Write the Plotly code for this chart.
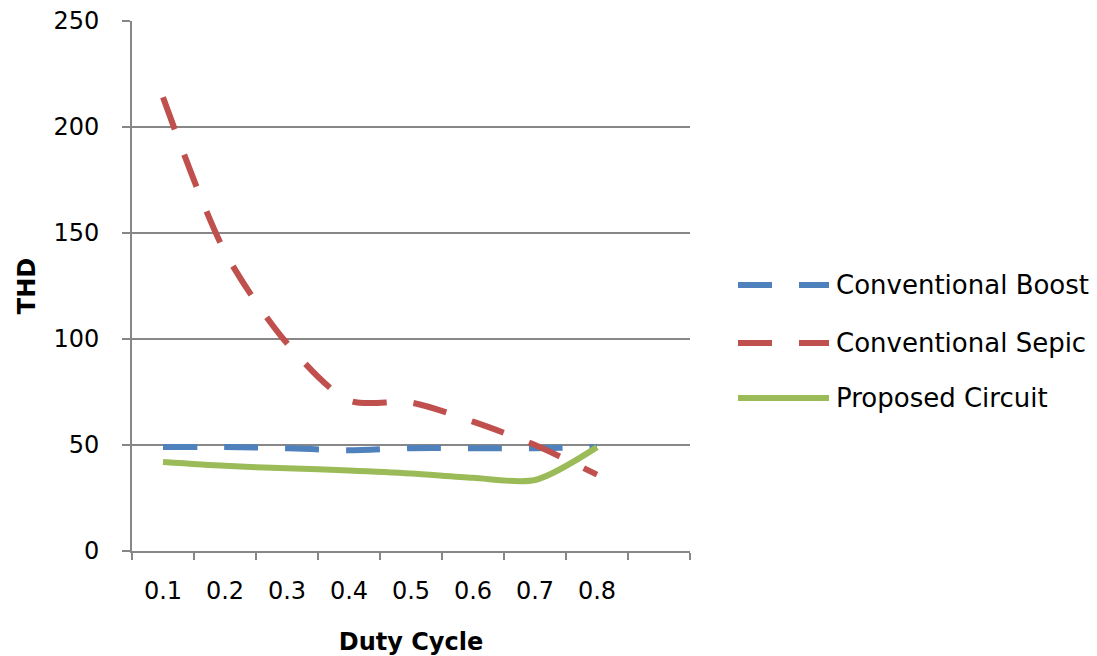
import plotly.graph_objects as go

# Duty cycle categories (a ninth, empty slot follows the last one)
categories = ["0.1", "0.2", "0.3", "0.4", "0.5", "0.6", "0.7", "0.8"]
n_slots = 9

# THD values per duty cycle
boost = [49, 49, 48.5, 47.5, 48.5, 48.5, 48.5, 49]
sepic = [214, 141, 98, 71, 70, 61, 50, 36]
proposed = [42, 40.2, 39, 38, 36.6, 34.5, 33.5, 49]

series_names = ["Conventional Boost", "Conventional Sepic", "Proposed Circuit"]
series_colors = ["#4F81BD", "#C0504D", "#9BBB59"]
series_dash = ["34px,27px", "34px,27px", "solid"]

GRAY = "#878787"
FONT = "DejaVu Sans"

xpos = list(range(1, len(categories) + 1))

fig = go.Figure()
for name, vals, color, dash in zip(series_names, [boost, sepic, proposed],
                                   series_colors, series_dash):
    fig.add_trace(go.Scatter(
        x=xpos, y=vals, name=name, mode="lines",
        line=dict(color=color, width=6, dash=dash, shape="spline", smoothing=0.8),
        showlegend=False,
    ))

W, H = 1097, 656
L, R, T, B = 132, 407, 21, 105
plot_w = W - L - R
plot_h = H - T - B


def px_to_paper_x(px):
    return (px - L) / plot_w


def px_to_paper_y(py):
    return (H - B - py) / plot_h


# Legend drawn at the right of the plot
legend_y_px = [285, 343, 398]
for name, color, dash, ypx in zip(series_names, series_colors, series_dash, legend_y_px):
    yp = px_to_paper_y(ypx)
    fig.add_shape(type="line", xref="paper", yref="paper",
                  x0=px_to_paper_x(738), x1=px_to_paper_x(829), y0=yp, y1=yp,
                  line=dict(color=color, width=6, dash=dash))
    fig.add_annotation(text=name, xref="paper", yref="paper",
                       x=px_to_paper_x(834), y=yp, xanchor="left", yanchor="middle",
                       showarrow=False, font=dict(family=FONT, size=26, color="#000000"))

fig.update_layout(
    width=W, height=H,
    margin=dict(l=L, r=R, t=T, b=B, autoexpand=False),
    paper_bgcolor="white", plot_bgcolor="white",
    font=dict(family=FONT, size=24, color="#000000"),
    showlegend=False,
)

fig.update_xaxes(
    automargin=False,
    range=[0.5, n_slots + 0.5],
    tickmode="array", tickvals=xpos, ticktext=categories, ticks="",
    ticklabelstandoff=17,
    showgrid=False, zeroline=False,
    showline=True, linecolor=GRAY, linewidth=2,
    minor=dict(tickmode="linear", tick0=0.5, dtick=1, ticks="outside",
               ticklen=7, tickwidth=2, tickcolor=GRAY, showgrid=False),
    title=dict(text="<b>Duty Cycle</b>", standoff=30,
               font=dict(family=FONT, size=24, color="#000000")),
    tickfont=dict(family=FONT, size=24, color="#000000"),
)

fig.update_yaxes(
    automargin=False,
    range=[0, 250], tickmode="linear", tick0=0, dtick=50,
    ticks="outside", ticklen=8, tickwidth=2, tickcolor=GRAY,
    ticklabelstandoff=18,
    showgrid=True, gridcolor=GRAY, gridwidth=2, zeroline=False,
    showline=True, linecolor=GRAY, linewidth=2,
    title=dict(text="<b>THD</b>", standoff=11,
               font=dict(family=FONT, size=24, color="#000000")),
    tickfont=dict(family=FONT, size=24, color="#000000"),
)

fig.write_html("out.html")
